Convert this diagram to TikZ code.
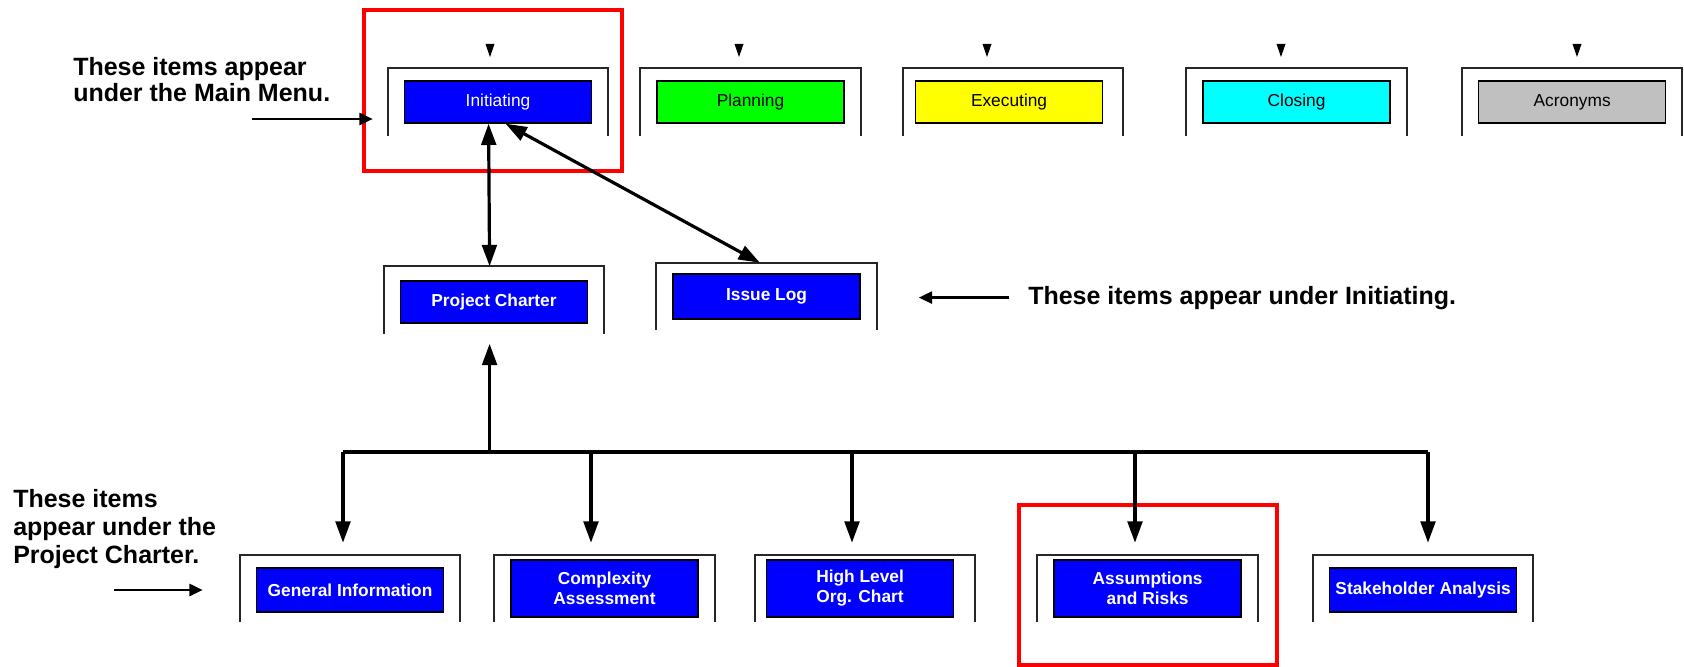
\documentclass[tikz,border=0pt]{standalone}
\usepackage{fontspec}
\setmainfont{Liberation Sans}
\usetikzlibrary{calc}
\usetikzlibrary{positioning}
\usetikzlibrary{arrows.meta}
\definecolor{menucyan}{RGB}{0,255,255}
\definecolor{menugreen}{RGB}{0,255,0}
\definecolor{menuyellow}{RGB}{255,255,0}
\definecolor{menugray}{RGB}{192,192,192}
\definecolor{menublue}{RGB}{0,0,255}

\begin{document}
\begin{tikzpicture}[x=0.75pt, y=-0.75pt,
    every node/.style={inner sep=0pt},
    holder/.style={minimum width=165pt, minimum height=50.25pt},
    bracket/.style={draw=black!85, line width=1.5pt},
    item/.style={draw, line width=1pt, minimum width=140.25pt, minimum height=31.5pt,
      align=center, font=\fontsize{13}{15}\selectfont},
    sub/.style={item, fill=menublue, text=white, font=\fontsize{13}{15}\selectfont\bfseries},
    note/.style={align=left, font=\fontsize{18.75}{19.5}\selectfont\bfseries},
    link/.style={line width=2.4pt, >={Triangle[width=11pt,length=16pt]}},
    pointer/.style={line width=2pt, >={Triangle[width=9pt,length=10pt]}},
    redbox/.style={draw=red, line width=3pt}
  ]
  \useasboundingbox (0,0) rectangle (1684,667);

  \draw[redbox] (364,10) rectangle (622,171);
  \draw[redbox] (1019,505) rectangle (1277,665);

  \node[holder] (fini) at (498,102) {};
  \node[holder, right=24pt of fini] (fpla) {};
  \node[holder, right=31.5pt of fpla] (fexe) {};
  \node[holder, right=47.25pt of fexe] (fclo) {};
  \node[holder, right=41.25pt of fclo] (facr) {};
  \node[item, fill=menublue, text=white] (ini) at (fini) {Initiating};
  \node[item, fill=menugreen] (pla) at (fpla) {Planning};
  \node[item, fill=menuyellow] (exe) at ($(fexe)+(-4,0)$) {Executing};
  \node[item, fill=menucyan] (clo) at (fclo) {Closing};
  \node[item, fill=menugray] (acr) at (facr) {Acronyms};

  \node[holder] (fpc) at (494,300) {};
  \node[holder, right=39pt of fpc, yshift=2.6pt] (fil) {};
  \node[sub] (pc) at ($(fpc)+(0,2)$) {Project Charter};
  \node[sub, minimum height=33.75pt] (il) at (fil) {Issue Log};

  \node[holder] (fgi) at (350,588.5) {};
  \node[holder, right=25.5pt of fgi] (fca) {};
  \node[holder, right=30pt of fca] (fhl) {};
  \node[holder, right=46.5pt of fhl] (fas) {};
  \node[holder, right=41.25pt of fas] (fsa) {};
  \node[sub, minimum height=33pt] (gi) at ($(fgi)+(0,1.5)$) {General Information};
  \node[sub, minimum height=42.75pt] (ca) at (fca) {Complexity\\Assessment};
  \node[sub, minimum height=42.75pt] (hl) at ($(fhl)+(-5,0)$) {High Level\\Org. Chart};
  \node[sub, minimum height=42.75pt] (as) at (fas) {Assumptions\\and Risks};
  \node[sub, minimum height=33pt] (sa) at ($(fsa)+(0,1.5)$) {Stakeholder Analysis};

  \foreach \f in {fini,fpla,fexe,fclo,facr,fpc,fil,fgi,fca,fhl,fas,fsa}
    \draw[bracket] (\f.south west) |- (\f.north) -| (\f.south east);
  \foreach \x in {490,739,987,1281,1577}
    \fill (\x-4.5,44) -- (\x+4.5,44) -- (\x,57) -- cycle;

  \coordinate (ini_b1) at ($(ini.south west)!0.45!(ini.south east)$);
  \coordinate (ini_b2) at ($(ini.south west)!0.54!(ini.south east)$);
  \coordinate (pc_t) at ($(fpc.north west)!0.48!(fpc.north east)$);
  \coordinate (pc_b) at ($(fpc.south west)!0.48!(fpc.south east)$);
  \coordinate (il_t) at ($(fil.north west)!0.47!(fil.north east)$);
  \foreach \x [count=\i] in {343,591,852,1135,1428}
    \coordinate (d\i) at (\x,452);
  \coordinate (d0) at (pc_b |- d1);

  \draw[link,<->] (ini_b1) -- (pc_t);
  \draw[link,<->] (ini_b2) -- (il_t);
  \draw[link,->,shorten >=7.5pt] (d0) -- (pc_b);
  \draw[link] (d1) -- (d5);
  \foreach \f [count=\i] in {fgi,fca,fhl,fas,fsa}
    \draw[link,->,shorten >=9pt] (d\i) -- (d\i |- \f.north);

  \node[note, anchor=north west] (tmm) at (73,57) {These items appear\\under the Main Menu.};
  \node[note, anchor=base west] (tini) at (1028,304) {These items appear under Initiating.};
  \node[note, anchor=north west, font=\fontsize{18.75}{21}\selectfont\bfseries] (tpc) at (13,489)
    {These items\\appear under the\\Project Charter.};

  \coordinate (p1) at (252,119);
  \coordinate (p3) at (114,590);
  \draw[pointer,->,shorten >=11.25pt] (p1) -- (p1 -| fini.west);
  \draw[pointer,->,shorten <=14pt,shorten >=31.5pt] (tini.west) -- (tini.west -| fil.east);
  \draw[pointer,->,shorten >=27.75pt] (p3) -- (p3 -| fgi.west);
\end{tikzpicture}
\end{document}
